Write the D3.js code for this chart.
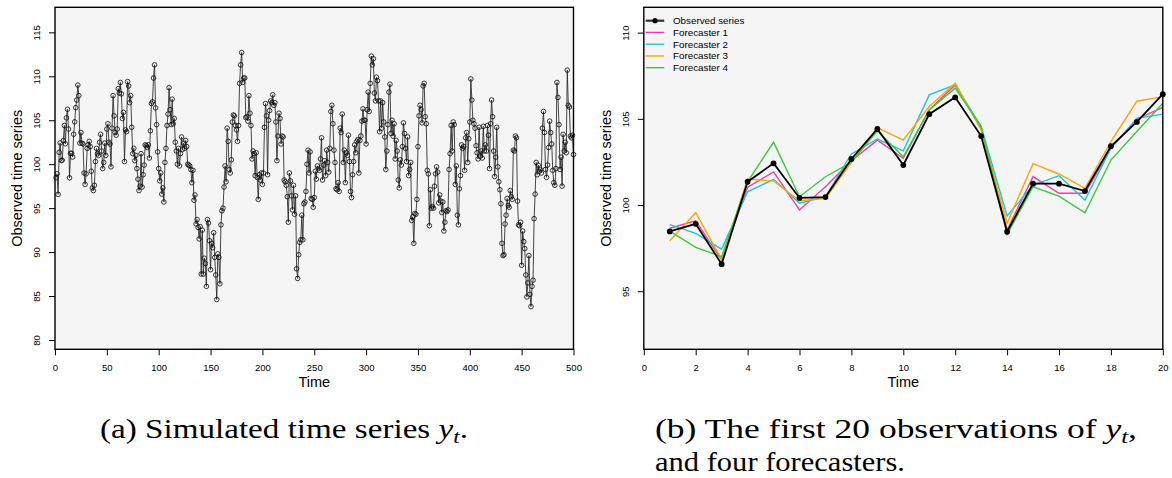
<!DOCTYPE html>
<html>
<head>
<meta charset="utf-8">
<script src="https://cdn.jsdelivr.net/npm/d3@7"></script>
<style>
  body { margin: 0; background: #ffffff; }
  svg { display: block; font-family: "Liberation Sans", Arial, Helvetica, sans-serif; }
  text.cap { font-family: "Liberation Serif", "DejaVu Serif", "Noto Serif", "Tinos", "FreeSerif", "Nimbus Roman", "Times New Roman", serif; }
</style>
</head>
<body>
<svg id="fig" width="1172" height="478"></svg>
<script>
// Simulated series y_t, t = 1..500
const seriesY = [
  98.47, 98.91, 96.57, 101.35, 102.42, 100.41, 100.46, 102.67, 104.41, 102.32,
  105.27, 106.25, 104.0, 98.45, 101.24, 101.24, 100.81, 103.41, 104.82, 106.43,
  107.3, 109.0, 107.8, 102.4, 103.6, 102.4, 102.3, 99.0, 97.7, 98.9,
  101.8, 102.2, 102.6, 102.0, 99.2, 97.3, 97.0, 97.6, 100.3, 101.8,
  101.2, 101.0, 102.5, 103.4, 101.5, 99.5, 100.2, 102.4, 101.0, 104.0,
  104.6, 102.5, 102.3, 99.7, 104.1, 107.8, 105.5, 103.6, 103.3, 104.0,
  108.6, 108.1, 109.3, 108.0, 105.2, 105.9, 100.3, 103.9, 103.7, 109.4,
  108.9, 107.0, 107.8, 104.2, 101.2, 101.8, 100.4, 101.0, 99.5, 98.3,
  97.0, 97.5, 101.2, 97.4, 98.8, 99.9, 102.2, 102.1, 101.9, 102.2,
  100.7, 103.8, 106.9, 107.1, 109.8, 111.3, 106.4, 104.5, 101.4, 99.5,
  98.1, 99.0, 96.6, 97.3, 95.7, 100.2, 101.8, 104.4, 105.7, 108.7,
  106.2, 104.5, 107.4, 104.6, 105.2, 102.5, 101.5, 100.0, 101.8, 99.8,
  101.2, 103.1, 101.7, 102.4, 101.8, 102.7, 102.0, 100.0, 99.9, 99.8,
  99.4, 97.9, 99.3, 95.9, 96.5, 93.2, 93.7, 92.8, 91.5, 92.9,
  87.5, 92.5, 87.5, 89.3, 88.7, 86.1, 93.7, 93.3, 91.3, 88.0,
  91.0, 90.5, 92.2, 89.4, 87.4, 84.6, 89.8, 89.4, 86.4, 93.1,
  94.7, 95.0, 97.4, 99.8, 98.0, 104.1, 102.6, 99.4, 99.0, 100.5,
  104.8, 105.6, 105.5, 104.4, 103.9, 102.6, 104.4, 109.2, 111.3, 112.7,
  109.3, 109.8, 109.8, 105.3, 105.4, 104.9, 107.8, 105.8, 104.4, 100.6,
  101.5, 101.2, 98.7, 101.3, 98.5, 96.0, 98.8, 98.2, 99.0, 97.7,
  99.0, 104.2, 106.9, 105.5, 98.8, 105.0, 106.1, 107.2, 107.0, 107.9,
  106.7, 107.0, 104.8, 100.4, 103.2, 105.8, 105.2, 102.3, 103.2, 103.1,
  98.2, 98.0, 97.6, 96.3, 93.4, 99.0, 98.1, 96.4, 94.8, 97.6,
  94.3, 96.4, 88.1, 87.0, 89.7, 91.1, 91.4, 94.2, 91.4, 95.5,
  95.7, 96.9, 100.0, 101.6, 99.0, 101.4, 96.1, 96.0, 95.1, 96.2,
  99.2, 98.3, 99.8, 99.5, 99.3, 100.6, 103.0, 98.2, 99.9, 100.4,
  98.7, 101.6, 100.2, 99.1, 101.8, 106.0, 106.7, 104.6, 101.6, 100.2,
  97.2, 97.1, 97.9, 96.9, 104.1, 103.6, 105.7, 100.2, 101.6, 97.9,
  101.3, 101.0, 103.3, 100.3, 96.9, 96.2, 98.8, 100.3, 102.2, 101.3,
  102.6, 102.8, 99.0, 102.7, 103.2, 104.9, 106.3, 105.0, 105.0, 102.3,
  106.2, 108.2, 106.0, 109.2, 112.3, 111.3, 112.0, 108.1, 107.2, 109.9,
  109.5, 107.2, 103.7, 107.2, 104.1, 107.0, 104.8, 103.1, 99.4, 101.5,
  104.5, 108.2, 109.1, 103.5, 105.0, 103.2, 104.6, 100.6, 102.7, 101.5,
  98.2, 97.3, 100.5, 99.9, 102.0, 104.7, 103.5, 101.8, 100.3, 103.1,
  98.7, 99.4, 100.2, 93.6, 94.0, 91.0, 94.4, 94.3, 96.0, 102.0,
  105.5, 106.7, 106.2, 104.7, 108.9, 109.2, 105.4, 104.6, 99.3, 98.9,
  93.0, 97.1, 95.0, 95.2, 95.0, 97.5, 98.9, 99.7, 99.1, 95.6,
  96.5, 95.8, 94.5, 95.7, 92.4, 93.4, 94.7, 94.6, 94.8, 99.4,
  101.2, 104.4, 101.5, 104.8, 104.5, 97.7, 99.8, 94.2, 93.1, 97.2,
  98.7, 102.2, 101.8, 102.0, 99.3, 103.0, 103.6, 100.2, 102.9, 104.8,
  109.7, 107.3, 105.0, 104.6, 104.1, 102.1, 101.3, 100.6, 104.2, 100.9,
  101.5, 100.7, 104.3, 101.5, 102.2, 101.5, 104.4, 103.3, 99.5, 104.6,
  107.3, 105.4, 101.5, 98.6, 100.8, 104.2, 99.7, 98.0, 97.1, 95.5,
  91.0, 89.6, 89.7, 93.2, 94.2, 96.1, 95.3, 95.1, 97.0, 96.3,
  96.0, 101.6, 101.5, 103.2, 103.0, 95.8, 93.1, 93.0, 93.4, 88.5,
  92.4, 91.2, 90.4, 87.4, 84.9, 86.5, 89.6, 85.2, 83.8, 86.1,
  86.8, 93.8, 96.6, 100.2, 98.8, 99.9, 99.2, 99.4, 99.0, 104.1,
  106.0, 103.6, 99.4, 98.5, 99.9, 101.9, 104.9, 103.6, 102.3, 99.3,
  97.9, 97.6, 99.5, 109.3, 107.6, 104.5, 99.4, 100.8, 97.5, 103.4,
  101.5, 102.5, 101.3, 110.7, 106.7, 106.5, 103.2, 103.0, 103.3, 101.1
];

// One-step forecasts for the first 20 observations
const forecaster1 = [98.65, 99.09, 96.81, 101.03, 101.92, 99.71, 101.06, 102.57, 103.76, 102.71,
                     105.52, 106.97, 104.45, 98.55, 101.65, 100.68, 100.68, 103.29, 104.98, 105.67];
const forecaster2 = [98.86, 98.36, 97.44, 100.77, 101.49, 100.10, 100.48, 102.96, 103.83, 103.14,
                     106.39, 106.97, 104.55, 99.36, 101.15, 101.70, 100.29, 103.30, 105.03, 105.27];
const forecaster3 = [97.93, 99.55, 96.85, 101.51, 101.39, 100.25, 100.39, 102.48, 104.49, 103.77,
                     105.71, 107.07, 104.36, 98.94, 102.40, 101.80, 100.97, 103.68, 106.02, 106.29];
const forecaster4 = [98.49, 97.54, 97.00, 101.35, 103.64, 100.48, 101.64, 102.48, 104.30, 102.80,
                     105.52, 106.78, 104.55, 98.30, 101.06, 100.52, 99.55, 102.61, 104.26, 105.90];

const nZoom = 20;

const leftXTicks = [0, 50, 100, 150, 200, 250, 300, 350, 400, 450, 500];
const leftYTicks = [80, 85, 90, 95, 100, 105, 110, 115];
const rightXTicks = [0, 2, 4, 6, 8, 10, 12, 14, 16, 18, 20];
const rightYTicks = [95, 100, 105, 110];

const legendLabels = ["Observed series", "Forecaster 1", "Forecaster 2", "Forecaster 3", "Forecaster 4"];
const forecastColors = ["#ee3fa6", "#1cc6d8", "#ffa500", "#3cc83c"];

const svg = d3.select("#fig");

// Shared panel frame: background, box, ticks, labels
function panel(box, xDomain, yDomain, xTicks, yTicks) {
  const x = d3.scaleLinear().domain(xDomain).range([box.x0, box.x1]);
  const y = d3.scaleLinear().domain(yDomain).range([box.y1, box.y0]);
  const g = svg.append("g");

  g.append("rect")
    .attr("x", box.x0).attr("y", box.y0)
    .attr("width", box.x1 - box.x0).attr("height", box.y1 - box.y0)
    .attr("fill", "#f5f5f5");

  const ax = g.append("g")
    .attr("transform", `translate(0,${box.y1})`)
    .call(d3.axisBottom(x).tickValues(xTicks).tickSize(6).tickFormat(d3.format("d")));
  ax.select(".domain").remove();
  ax.selectAll(".tick line").attr("stroke", "#000").attr("stroke-width", 1);
  ax.selectAll(".tick text")
    .attr("y", 18.4).attr("dy", "0.35em")
    .attr("font-size", 9.5).attr("fill", "#000")
    .attr("font-family", "Liberation Sans, Arial, sans-serif");

  const ay = g.append("g")
    .attr("transform", `translate(${box.x0},0)`)
    .call(d3.axisLeft(y).tickValues(yTicks).tickSize(6).tickFormat(d3.format("d")));
  ay.select(".domain").remove();
  ay.selectAll(".tick line").attr("stroke", "#000").attr("stroke-width", 1);
  ay.selectAll(".tick text")
    .attr("x", null).attr("dy", null)
    .attr("text-anchor", "middle")
    .attr("dominant-baseline", "central")
    .attr("transform", "translate(-18.8,0) rotate(-90)")
    .attr("font-size", 9.5).attr("fill", "#000")
    .attr("font-family", "Liberation Sans, Arial, sans-serif");

  g.append("text")
    .attr("x", (box.x0 + box.x1) / 2).attr("y", 381.7)
    .attr("text-anchor", "middle").attr("dominant-baseline", "central")
    .attr("font-size", 14.5).text("Time");

  g.append("text")
    .attr("transform", `translate(${box.x0 - 38},${(box.y0 + box.y1) / 2}) rotate(-90)`)
    .attr("text-anchor", "middle").attr("dominant-baseline", "central")
    .attr("font-size", 14.5).text("Observed time series");

  const plot = g.append("g");

  g.append("rect")
    .attr("x", box.x0).attr("y", box.y0)
    .attr("width", box.x1 - box.x0).attr("height", box.y1 - box.y0)
    .attr("fill", "none").attr("stroke", "#000").attr("stroke-width", 1.4);

  return { x, y, plot };
}

// (a) full simulated series
const A = panel({ x0: 55, x1: 573.5, y0: 7.3, y1: 349.3 }, [0, 500], [78.94, 117.85], leftXTicks, leftYTicks);
A.plot.append("path")
  .datum(seriesY)
  .attr("fill", "none").attr("stroke", "#262626").attr("stroke-width", 0.85)
  .attr("d", d3.line().x((d, i) => A.x(i + 1)).y(d => A.y(d)));
A.plot.selectAll("circle")
  .data(seriesY).join("circle")
  .attr("cx", (d, i) => A.x(i + 1)).attr("cy", d => A.y(d))
  .attr("r", 2.3).attr("fill", "none").attr("stroke", "#111").attr("stroke-width", 0.85);

// (b) first 20 observations with the four forecasters
const B = panel({ x0: 643.8, x1: 1162.8, y0: 7.3, y1: 349.3 }, [0, 20], [91.63, 111.47], rightXTicks, rightYTicks);
const observed = seriesY.slice(0, nZoom);
const lineB = d3.line().x((d, i) => B.x(i + 1)).y(d => B.y(d));
[forecaster1, forecaster2, forecaster3, forecaster4].forEach((f, k) => {
  B.plot.append("path").datum(f)
    .attr("fill", "none").attr("stroke", forecastColors[k]).attr("stroke-width", 1.4)
    .attr("d", lineB);
});
B.plot.append("path").datum(observed)
  .attr("fill", "none").attr("stroke", "#000").attr("stroke-width", 1.8)
  .attr("d", lineB);
B.plot.selectAll("circle")
  .data(observed).join("circle")
  .attr("cx", (d, i) => B.x(i + 1)).attr("cy", d => B.y(d))
  .attr("r", 2.9).attr("fill", "#000");

// Legend
const lg = svg.append("g");
legendLabels.forEach((lab, i) => {
  const yy = 20.7 + i * 11.75;
  const col = i === 0 ? "#333" : forecastColors[i - 1];
  lg.append("line")
    .attr("x1", 645.7).attr("x2", 664.2).attr("y1", yy).attr("y2", yy)
    .attr("stroke", col).attr("stroke-width", i === 0 ? 2.2 : 1.4);
  if (i === 0) {
    lg.append("circle").attr("cx", 655).attr("cy", yy).attr("r", 2.6).attr("fill", "#000");
  }
  lg.append("text")
    .attr("x", 673).attr("y", yy).attr("dominant-baseline", "central")
    .attr("font-size", 9.8).text(lab);
});

// Sub-figure captions; each line is fitted to its set width
function caption(x, y, len, lead, tail) {
  const t = svg.append("text")
    .attr("class", "cap")
    .attr("x", x).attr("y", y)
    .style("font-size", "27px").attr("fill", "#000");
  t.append("tspan").text(lead);
  if (tail !== null) {
    t.append("tspan").style("font-style", "italic").text("y");
    t.append("tspan").style("font-size", "19px").style("font-style", "italic").attr("dy", 5).text("t");
    t.append("tspan").attr("dy", -5).text(tail);
  }
  const natural = t.node().getComputedTextLength();
  t.attr("textLength", len)
   .attr("lengthAdjust", natural < len ? "spacingAndGlyphs" : "spacing");
  return t;
}
caption(100, 438, 368, "(a) Simulated time series ", ".");
caption(655, 438, 482, "(b) The first 20 observations of ", ",");
caption(655, 471, 250, "and four forecasters.", null);
</script>
</body>
</html>
